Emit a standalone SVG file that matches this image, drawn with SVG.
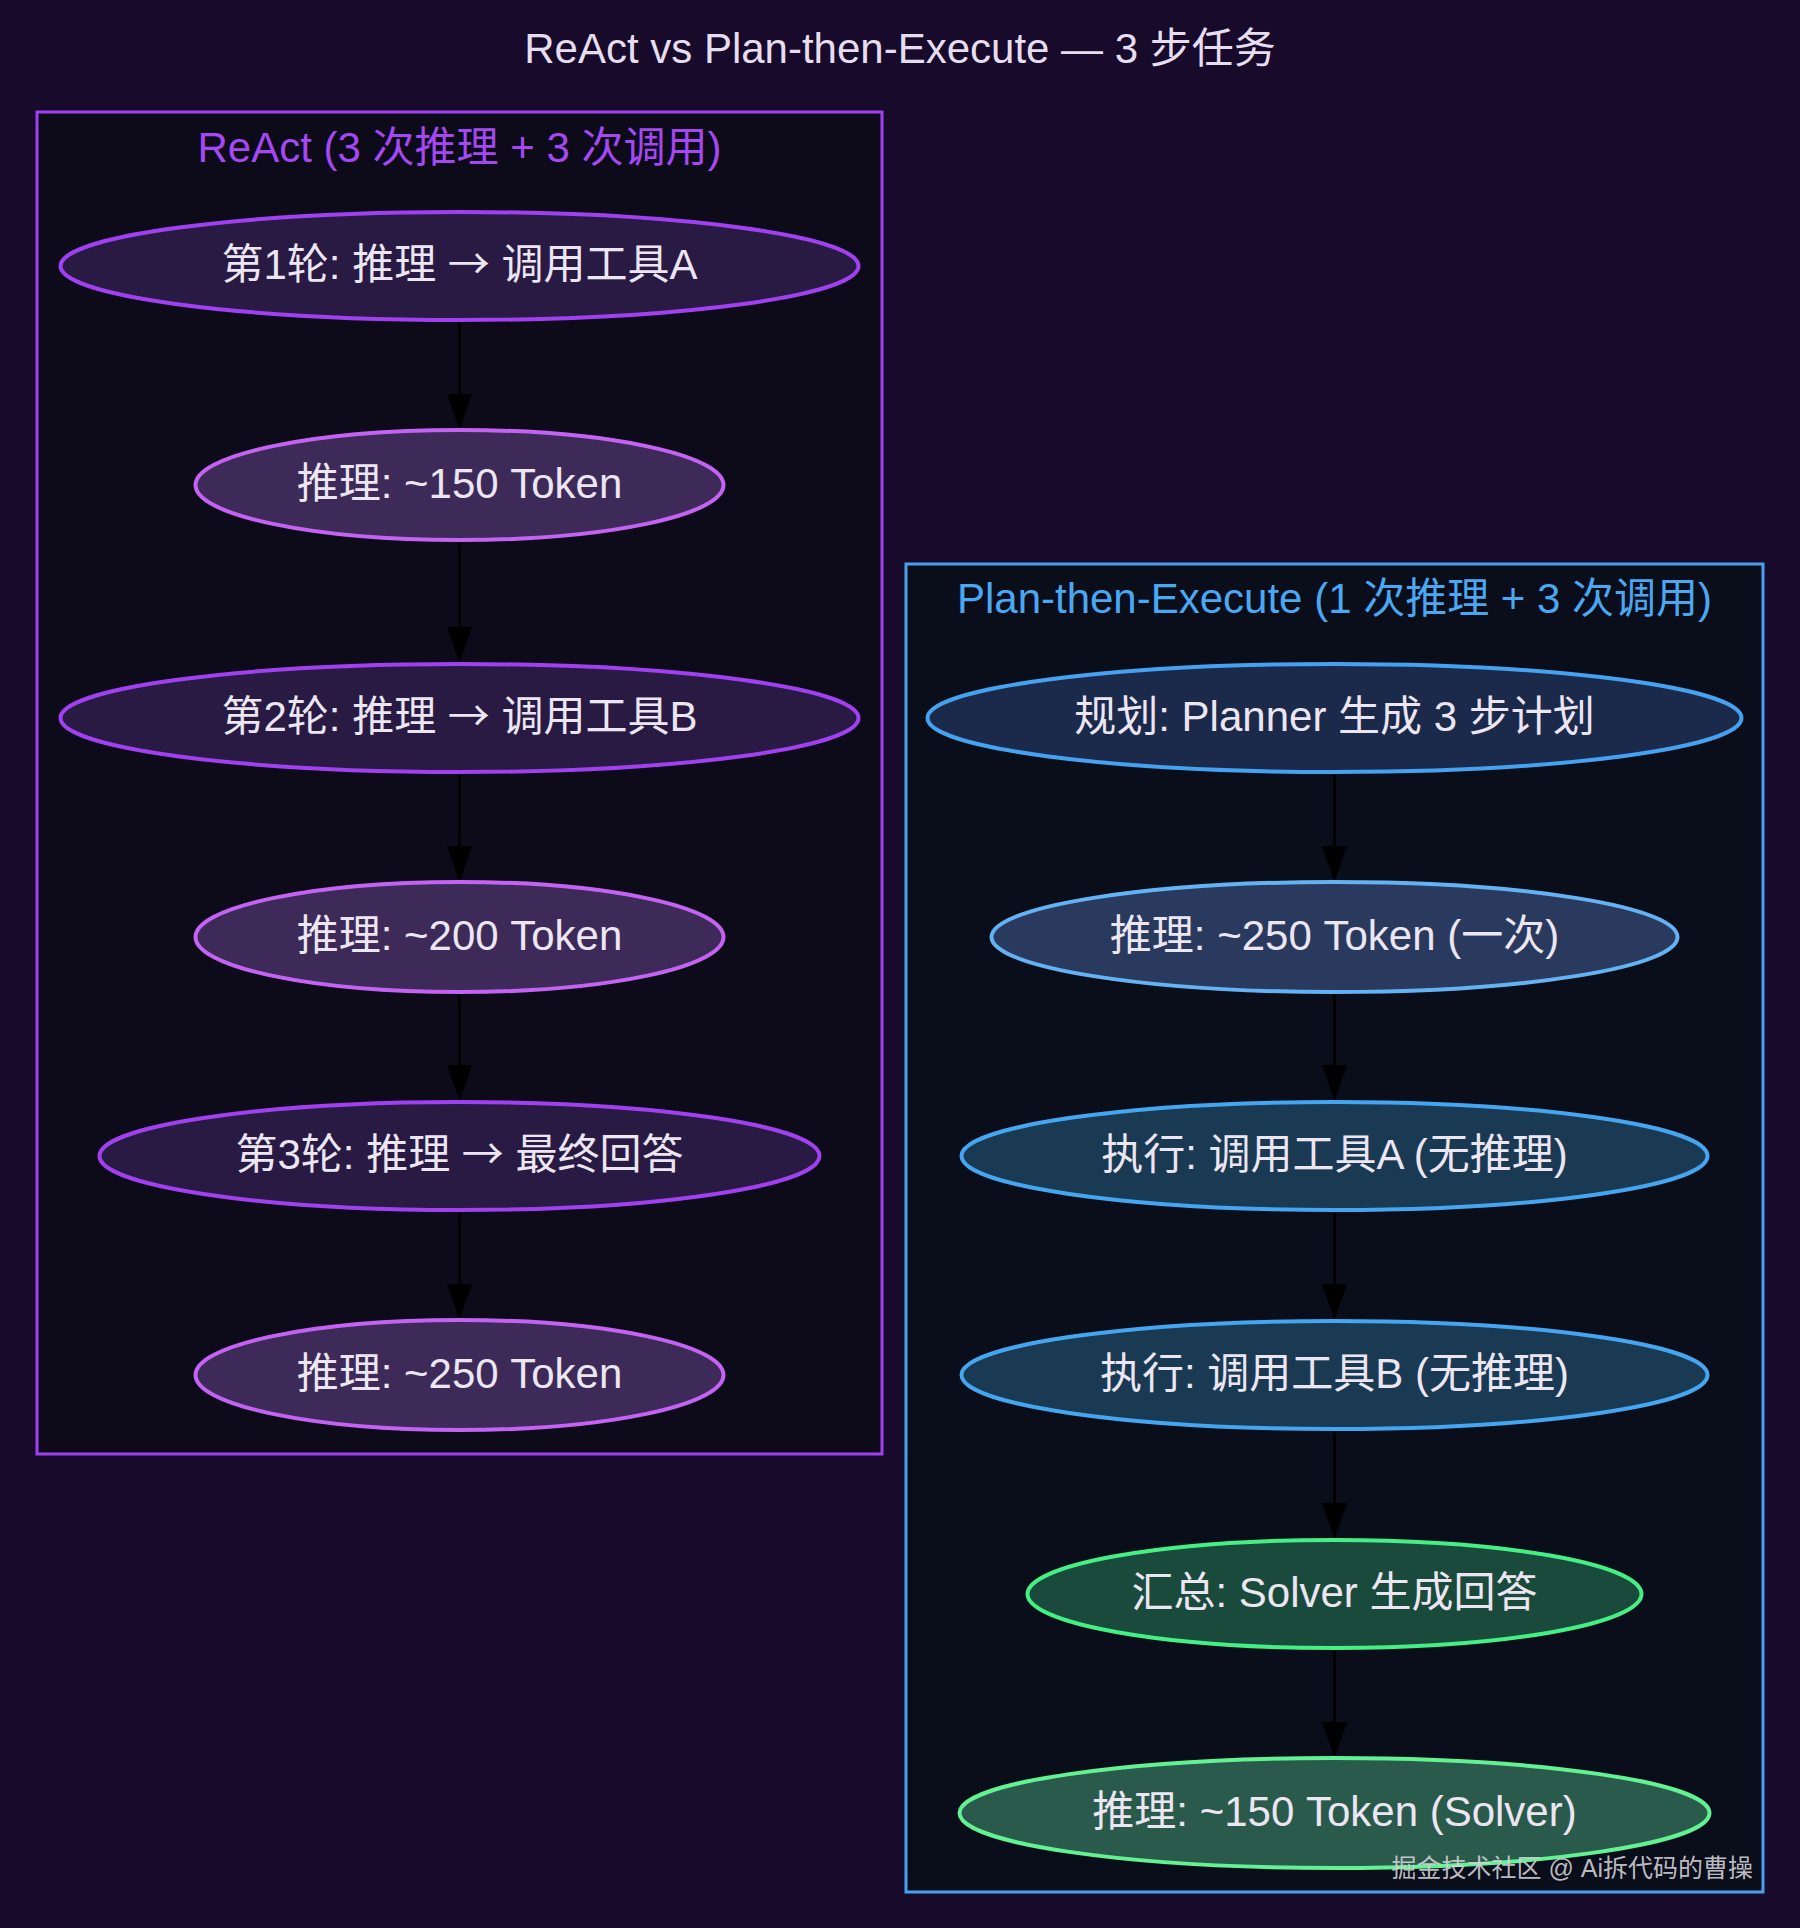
<svg xmlns="http://www.w3.org/2000/svg" width="1800" height="1928" viewBox="0 0 1800 1928">
<defs>
<style>
text{font-family:"Liberation Sans","Noto Sans CJK SC",sans-serif;text-anchor:middle}
.t{font-size:42px;fill:#e6deee}
.lab{font-size:42px}
.n{font-size:42px;fill:#ece6f2}
.ar{font-family:"Noto Sans CJK SC","DejaVu Sans",sans-serif}
.e{stroke-width:4}
.edge{stroke:#000;stroke-width:3;fill:none}
.wm{font-size:25px;fill:#d2d2d8;fill-opacity:0.9;text-anchor:end}
</style>
<marker id="ah" viewBox="0 -13 36 26" refX="36" refY="0" markerWidth="36" markerHeight="26" markerUnits="userSpaceOnUse" orient="auto">
<path d="M0,-12.5 L36,0 L0,12.5 z" fill="#000"/>
</marker>
</defs>
<rect width="1800" height="1928" fill="#170a2b"/>
<text class="t" x="900" y="63">ReAct vs Plan-then-Execute — 3 步任务</text>

<g id="cluster_react">
<rect x="37" y="112" width="845" height="1342" fill="#0d0a1a" stroke="#a040f0" stroke-width="3"/>
<text class="lab" x="459.5" y="162" fill="#a448f4">ReAct (3 次推理 + 3 次调用)</text>
</g>
<g id="cluster_pte">
<rect x="906" y="564" width="857" height="1328" fill="#0a0d1a" stroke="#4aa0f0" stroke-width="3"/>
<text class="lab" x="1334.5" y="613" fill="#4aa8f2">Plan-then-Execute (1 次推理 + 3 次调用)</text>
</g>

<g id="connectors">
<path class="edge" d="M459.5,321 V430" marker-end="url(#ah)"/>
<path class="edge" d="M459.5,540 V663" marker-end="url(#ah)"/>
<path class="edge" d="M459.5,773 V882" marker-end="url(#ah)"/>
<path class="edge" d="M459.5,992 V1101" marker-end="url(#ah)"/>
<path class="edge" d="M459.5,1211 V1320" marker-end="url(#ah)"/>
<path class="edge" d="M1334.5,773 V882" marker-end="url(#ah)"/>
<path class="edge" d="M1334.5,992 V1101" marker-end="url(#ah)"/>
<path class="edge" d="M1334.5,1211 V1320" marker-end="url(#ah)"/>
<path class="edge" d="M1334.5,1430 V1539" marker-end="url(#ah)"/>
<path class="edge" d="M1334.5,1649 V1758" marker-end="url(#ah)"/>
</g>

<g id="r1">
<ellipse class="e" cx="459.5" cy="266" rx="399" ry="54" fill="#281a42" stroke="#a040f0"/>
<text class="n" x="459.5" y="279">第1轮: 推理 <tspan class="ar">→</tspan> 调用工具A</text>
</g>
<g id="r1t">
<ellipse class="e" cx="459.5" cy="485" rx="264" ry="55" fill="#3d2a58" stroke="#c462f4"/>
<text class="n" x="459.5" y="498">推理: ~150 Token</text>
</g>
<g id="r2">
<ellipse class="e" cx="459.5" cy="718" rx="399" ry="54" fill="#281a42" stroke="#a040f0"/>
<text class="n" x="459.5" y="731">第2轮: 推理 <tspan class="ar">→</tspan> 调用工具B</text>
</g>
<g id="r2t">
<ellipse class="e" cx="459.5" cy="937" rx="264" ry="55" fill="#3d2a58" stroke="#c462f4"/>
<text class="n" x="459.5" y="950">推理: ~200 Token</text>
</g>
<g id="r3">
<ellipse class="e" cx="459.5" cy="1156" rx="360" ry="54" fill="#281a42" stroke="#a040f0"/>
<text class="n" x="459.5" y="1169">第3轮: 推理 <tspan class="ar">→</tspan> 最终回答</text>
</g>
<g id="r3t">
<ellipse class="e" cx="459.5" cy="1375" rx="264" ry="55" fill="#3d2a58" stroke="#c462f4"/>
<text class="n" x="459.5" y="1388">推理: ~250 Token</text>
</g>

<g id="p_plan">
<ellipse class="e" cx="1334.5" cy="718" rx="407" ry="54" fill="#1b2a4b" stroke="#44a2f0"/>
<text class="n" x="1334.5" y="731">规划: Planner 生成 3 步计划</text>
</g>
<g id="p_plan_t">
<ellipse class="e" cx="1334.5" cy="937" rx="343" ry="55" fill="#2a3a5e" stroke="#62b2f4"/>
<text class="n" x="1334.5" y="950">推理: ~250 Token (一次)</text>
</g>
<g id="p_exec_a">
<ellipse class="e" cx="1334.5" cy="1156" rx="373" ry="54" fill="#1a3953" stroke="#44a6f0"/>
<text class="n" x="1334.5" y="1169">执行: 调用工具A (无推理)</text>
</g>
<g id="p_exec_b">
<ellipse class="e" cx="1334.5" cy="1375" rx="373" ry="54" fill="#1a3953" stroke="#44a6f0"/>
<text class="n" x="1334.5" y="1388">执行: 调用工具B (无推理)</text>
</g>
<g id="p_solver">
<ellipse class="e" cx="1334.5" cy="1594" rx="307" ry="54" fill="#1a4a3c" stroke="#44f084"/>
<text class="n" x="1334.5" y="1607">汇总: Solver 生成回答</text>
</g>
<g id="p_solver_t">
<ellipse class="e" cx="1334.5" cy="1813" rx="375" ry="55" fill="#2a5a4c" stroke="#62f292"/>
<text class="n" x="1334.5" y="1826">推理: ~150 Token (Solver)</text>
</g>

<text class="wm" x="1753" y="1877">掘金技术社区 @ Ai拆代码的曹操</text>
</svg>
